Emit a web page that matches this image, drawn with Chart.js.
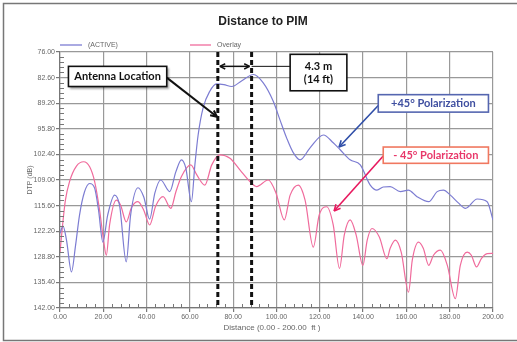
<!DOCTYPE html>
<html>
<head>
<meta charset="utf-8">
<title>Distance to PIM</title>
<script src="https://cdn.jsdelivr.net/npm/chart.js@4.4.1/dist/chart.umd.min.js"></script>
<style>
  html, body { margin: 0; padding: 0; background: #fff; }
  #wrap { width: 517px; height: 342px; }
</style>
</head>
<body>
<div id="wrap"><canvas id="chartCanvas" width="517" height="342"></canvas></div>
<script>
// tick labels
const xTicks = [0, 20, 40, 60, 80, 100, 120, 140, 160, 180, 200];
const yTicks = [76.0, 82.6, 89.2, 95.8, 102.4, 109.0, 115.6, 122.2, 128.8, 135.4, 142.0];

// (ACTIVE) trace, distance in ft / DTP in dB
const activeDist = [0, 1.4, 3.0, 5.3, 7.2, 9.0, 11.3, 13.7, 16.0, 17.8, 19.8, 22.0, 25.2, 27.5, 30.6, 32.6,
  36.0, 38.7, 41.4, 43.8, 46.5, 50.7, 53.5, 56.1, 58.1, 60.7, 62.3, 63.8, 66.1, 69.2, 72.3, 75.7, 79.3,
  84.0, 89.3, 93.8, 98.5, 101.6, 104.7, 107.6, 110.9, 115.5, 121.7, 126.2, 129.4, 134.0, 138.7, 143.3,
  146.4, 149.3, 152.5, 157.2, 160.9, 164.9, 170.3, 174.2, 177.1, 180.3, 184.0, 187.3, 192.7, 197.3, 200];
const activeDtp = [122.7, 120.9, 124.5, 132.7, 125.8, 118.1, 112.1, 109.9, 111.1, 116.8, 125.0, 118.1, 112.9, 115.5, 130.1, 118.1,
  111.0, 113.4, 119.1, 112.4, 109.0, 112.0, 106.9, 103.8, 105.9, 114.6, 105.1, 97.4, 90.4, 86.1, 84.2, 84.4, 84.9,
  83.4, 81.8, 83.9, 88.7, 93.5, 98.2, 101.8, 103.8, 100.7, 97.4, 99.4, 101.2, 103.8, 105.1, 110.3,
  111.6, 110.8, 110.7, 112.0, 111.6, 113.3, 114.6, 112.0, 111.6, 112.9, 114.9, 116.3, 113.9, 114.6, 119.3];

// Overlay trace
const overlayDist = [0, 1.2, 2.5, 4.4, 7.6, 10.9, 13.7, 16.0, 18.3, 20.1, 21.4, 22.9, 26.0, 28.0, 30.6, 33.1,
  36.0, 38.7, 41.4, 44.2, 47.6, 51.2, 53.5, 56.1, 60.4, 63.2, 66.9, 70.1, 73.8, 78.5, 83.1, 87.7, 90.8,
  96.2, 99.8, 103.6, 106.3, 110.1, 113.2, 117.0, 119.7, 123.2, 126.2, 129.1, 131.3, 134.0, 136.8, 139.9,
  141.9, 144.1, 147.5, 151.0, 152.5, 154.9, 157.6, 161.0, 162.7, 165.6, 167.8, 170.3, 172.5, 175.7, 178.9,
  182.6, 184.9, 188.1, 190.0, 192.4, 194.7, 197.3, 200];
const overlayDtp = [127.6, 120.6, 114.2, 109.4, 105.4, 104.3, 105.6, 109.4, 116.8, 124.5, 128.4, 120.6, 114.2, 115.5, 119.8, 116.0,
  114.6, 116.8, 120.6, 115.7, 113.3, 116.3, 112.1, 108.1, 105.1, 107.7, 110.3, 105.1, 102.5, 103.4, 106.4, 109.4, 110.7,
  109.0, 112.4, 119.3, 112.9, 110.3, 114.2, 126.3, 118.1, 115.9, 120.6, 131.8, 123.2, 119.3, 123.2, 131.0,
  124.5, 121.5, 123.7, 129.3, 126.6, 124.5, 127.6, 137.9, 129.7, 125.0, 126.6, 131.0, 128.4, 127.1, 131.0,
  139.6, 131.0, 127.6, 128.4, 131.4, 129.2, 128.0, 127.9];

// antenna markers (ft)
const antennaMarks = [72.9, 88.5];

const activeColor = '#7c7cd2';
const overlayColor = '#f06b9c';

function toPoints(xs, ys) {
  return xs.map((x, i) => ({ x: x, y: ys[i] }));
}

function arrowHead(ctx, x1, y1, x2, y2, size) {
  const a = Math.atan2(y2 - y1, x2 - x1);
  ctx.beginPath();
  ctx.moveTo(x2, y2);
  ctx.lineTo(x2 - size * Math.cos(a - 0.45), y2 - size * Math.sin(a - 0.45));
  ctx.moveTo(x2, y2);
  ctx.lineTo(x2 - size * Math.cos(a + 0.45), y2 - size * Math.sin(a + 0.45));
  ctx.stroke();
}

function arrow(ctx, x1, y1, x2, y2, color, width) {
  ctx.save();
  ctx.strokeStyle = color;
  ctx.lineWidth = width;
  ctx.beginPath();
  ctx.moveTo(x1, y1);
  ctx.lineTo(x2, y2);
  ctx.stroke();
  arrowHead(ctx, x1, y1, x2, y2, 7);
  ctx.restore();
}

function labelBox(ctx, x1, y1, x2, y2, lines, color, border, shadow) {
  ctx.save();
  if (shadow) {
    ctx.shadowColor = 'rgba(0,0,0,0.35)';
    ctx.shadowOffsetX = 2;
    ctx.shadowOffsetY = 2;
    ctx.shadowBlur = 2;
  }
  ctx.fillStyle = '#fff';
  ctx.fillRect(x1, y1, x2 - x1, y2 - y1);
  ctx.restore();
  ctx.save();
  ctx.strokeStyle = border;
  ctx.lineWidth = 1.6;
  ctx.strokeRect(x1, y1, x2 - x1, y2 - y1);
  ctx.fillStyle = color;
  ctx.font = 'bold 11px Lato, "Open Sans", sans-serif';
  ctx.textAlign = 'center';
  ctx.textBaseline = 'middle';
  const lh = 13;
  const cy = (y1 + y2) / 2 - (lines.length - 1) * lh / 2;
  lines.forEach((t, i) => ctx.fillText(t, (x1 + x2) / 2, cy + i * lh));
  ctx.restore();
}

const decorations = {
  id: 'decorations',
  beforeDraw(chart) {
    const ctx = chart.ctx;
    ctx.save();
    ctx.fillStyle = '#fff';
    ctx.fillRect(0, 0, chart.width, chart.height);
    ctx.restore();
  },
  afterDraw(chart) {
    const ctx = chart.ctx;
    const xs = chart.scales.x, ys = chart.scales.y;
    const area = chart.chartArea;
    const px = v => xs.getPixelForValue(v);
    const py = v => ys.getPixelForValue(v);

    ctx.save();
    // outer frame
    ctx.strokeStyle = '#777';
    ctx.lineWidth = 1.5;
    ctx.strokeRect(3.5, 3.5, 530, 337);

    // title
    ctx.fillStyle = '#222';
    ctx.font = 'bold 12px "Liberation Sans", Arial, sans-serif';
    ctx.textAlign = 'center';
    ctx.textBaseline = 'middle';
    ctx.fillText('Distance to PIM', 263, 22);

    // legend
    ctx.font = '7px "Liberation Sans", Arial, sans-serif';
    ctx.textAlign = 'left';
    ctx.fillStyle = '#666';
    ctx.lineWidth = 1.3;
    ctx.strokeStyle = activeColor;
    ctx.beginPath(); ctx.moveTo(60, 45); ctx.lineTo(82, 45); ctx.stroke();
    ctx.fillText('(ACTIVE)', 88, 45);
    ctx.strokeStyle = overlayColor;
    ctx.beginPath(); ctx.moveTo(190, 45); ctx.lineTo(211, 45); ctx.stroke();
    ctx.fillText('Overlay', 217, 45);

    // axis titles
    ctx.textAlign = 'center';
    ctx.font = '8px "Liberation Sans", Arial, sans-serif';
    ctx.fillText('Distance (0.00 - 200.00  ft )', 272, 328);
    ctx.save();
    ctx.translate(30, 180);
    ctx.rotate(-Math.PI / 2);
    ctx.font = '7px "Liberation Sans", Arial, sans-serif';
    ctx.fillText('DTP (dB)', 0, 0);
    ctx.restore();

    // minor ticks
    ctx.strokeStyle = '#777';
    ctx.lineWidth = 1;
    for (let d = 4; d < 200; d += 4) {
      if (d % 20 === 0) continue;
      const x = Math.round(px(d)) + 0.5;
      ctx.beginPath(); ctx.moveTo(x, area.bottom); ctx.lineTo(x, area.bottom - 4); ctx.stroke();
    }
    for (let i = 1; i < 50; i++) {
      if (i % 5 === 0) continue;
      const y = Math.round(py(76 + i * 1.32)) + 0.5;
      ctx.beginPath(); ctx.moveTo(area.left, y); ctx.lineTo(area.left + 4, y); ctx.stroke();
    }

    // dashed antenna lines
    ctx.strokeStyle = '#111';
    ctx.lineWidth = 3;
    ctx.setLineDash([5, 3]);
    antennaMarks.forEach(d => {
      ctx.beginPath();
      ctx.moveTo(px(d), area.top);
      ctx.lineTo(px(d), area.bottom);
      ctx.stroke();
    });
    ctx.setLineDash([]);

    // 4.3 m span
    const yArr = py(79.7);
    ctx.lineWidth = 1.5;
    ctx.strokeStyle = '#111';
    ctx.beginPath();
    ctx.moveTo(px(antennaMarks[0]) + 2, yArr);
    ctx.lineTo(px(antennaMarks[1]) - 2, yArr);
    ctx.stroke();
    arrowHead(ctx, px(antennaMarks[1]), yArr, px(antennaMarks[0]) + 2, yArr, 6);
    arrowHead(ctx, px(antennaMarks[0]), yArr, px(antennaMarks[1]) - 2, yArr, 6);
    ctx.lineWidth = 1;
    ctx.beginPath();
    ctx.moveTo(px(antennaMarks[1]), yArr);
    ctx.lineTo(px(106.3), yArr);
    ctx.stroke();
    ctx.restore();

    labelBox(ctx, px(106.3), py(76.6), px(132.5), py(86.0), ['4.3 m', '(14 ft)'], '#111', '#111', false);

    // antenna location
    arrow(ctx, px(49.3), py(82.6), px(72.5), py(92.7), '#111', 2);
    labelBox(ctx, px(3.9), py(79.7), px(49.3), py(84.9), ['Antenna Location'], '#111', '#111', true);

    // polarization callouts
    arrow(ctx, px(147), py(89.8), px(128.9), py(100.5), '#2f4ea8', 1.6);
    labelBox(ctx, px(147), py(87.0), px(197.9), py(91.5), ['+45\u00b0 Polarization'], '#3f4fa0', '#5566b0', false);
    arrow(ctx, px(149.3), py(102.8), px(126.6), py(117.0), '#e8195f', 1.6);
    labelBox(ctx, px(149.3), py(100.5), px(197.9), py(104.7), ['- 45\u00b0 Polarization'], '#e8386a', '#f07860', false);
  }
};

new Chart(document.getElementById('chartCanvas').getContext('2d'), {
  type: 'line',
  data: {
    datasets: [{
      label: '(ACTIVE)',
      data: toPoints(activeDist, activeDtp),
      borderColor: activeColor,
      borderWidth: 1.2,
      pointRadius: 0,
      cubicInterpolationMode: 'monotone',
      fill: false
    }, {
      label: 'Overlay',
      data: toPoints(overlayDist, overlayDtp),
      borderColor: overlayColor,
      borderWidth: 1.2,
      pointRadius: 0,
      cubicInterpolationMode: 'monotone',
      fill: false
    }]
  },
  options: {
    responsive: false,
    animation: false,
    devicePixelRatio: 1,
    layout: { padding: { top: 52, right: 24, left: 0, bottom: 0 } },
    plugins: {
      legend: { display: false },
      title: { display: false },
      tooltip: { enabled: false }
    },
    scales: {
      x: {
        type: 'linear',
        min: 0,
        max: 200,
        afterBuildTicks: s => { s.ticks = xTicks.map(v => ({ value: v })); },
        afterFit: s => { s.height = 34; },
        ticks: {
          autoSkip: false,
          maxRotation: 0,
          padding: 1,
          color: '#666',
          font: { size: 7, family: '"Liberation Sans", Arial, sans-serif' },
          callback: v => Number(v).toFixed(2)
        },
        grid: { color: '#999', lineWidth: 1.2, tickLength: 4, tickColor: '#777' },
        border: { color: '#777', width: 1.2 }
      },
      y: {
        type: 'linear',
        reverse: true,
        min: 76,
        max: 142,
        afterBuildTicks: s => { s.ticks = yTicks.map(v => ({ value: v })); },
        afterFit: s => { s.width = 60; },
        ticks: {
          autoSkip: false,
          padding: 1,
          color: '#666',
          font: { size: 7, family: '"Liberation Sans", Arial, sans-serif' },
          callback: v => Number(v).toFixed(2)
        },
        grid: { color: '#999', lineWidth: 1.2, tickLength: 4, tickColor: '#777' },
        border: { color: '#777', width: 1.2 }
      }
    }
  },
  plugins: [decorations]
});
</script>
</body>
</html>
